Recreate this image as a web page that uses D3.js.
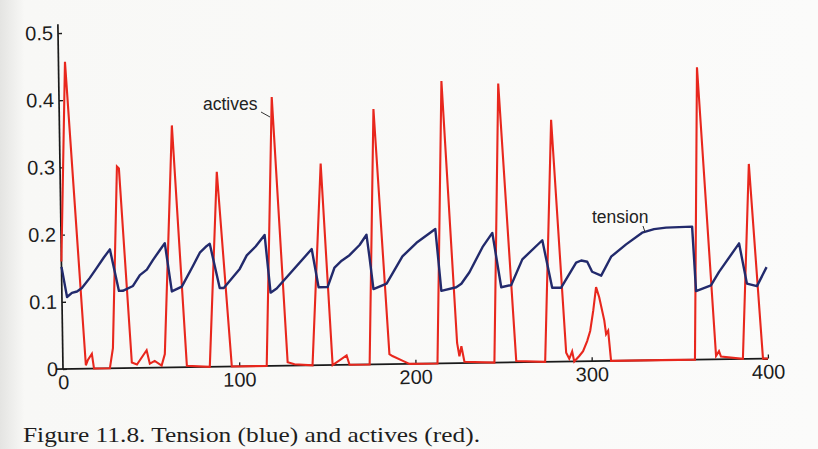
<!DOCTYPE html>
<html>
<head>
<meta charset="utf-8">
<script src="https://cdn.jsdelivr.net/npm/d3@7"></script>
<style>
  html, body { margin: 0; padding: 0; background: #fafaf8; }
  svg { display: block; }
</style>
</head>
<body>
<svg id="chart" width="818" height="449"></svg>
<script>
// ---- data ----
const activesT = [0, 3.7, 13.0, 14.2, 16.5, 17.6, 26.6, 28.5, 32.3, 33.4, 39.1, 42, 47.6, 49.3, 52.1, 56, 57.9,
  63.8, 70.3, 83.3, 88.9, 95.8, 115.6, 120.7, 127.5, 131.4, 141.6, 147.9, 153, 161, 162.6, 174, 178.3,
  185.3, 187, 192.6, 196.6, 212.5, 217.1, 223.8, 225, 226.2, 227.8, 244.8, 249.3, 257.2, 273.6, 279,
  285.6, 287.3, 289, 290.1, 293, 295.2, 297.6, 299.4, 301.3, 303.1, 304.8, 307.5, 308.4, 309.6, 311,
  358.6, 362.2, 370.6, 372.3, 373.4, 385.8, 390.8, 397.2, 400];
const activesV = [0.16, 0.457, 0.005, 0.013, 0.022, 0, 0, 0.03, 0.30, 0.297, 0.008, 0.005, 0.026, 0.006, 0.01, 0.003, 0.02,
  0.36, 0.002, 0, 0.29, 0, 0, 0.40, 0.005, 0.002, 0, 0.30, 0, 0.014, 0, 0, 0.38,
  0.015, 0.012, 0.005, 0, 0, 0.42, 0.03, 0.01, 0.025, 0.002, 0, 0.415, 0.002, 0, 0.36,
  0.013, 0.004, 0.015, 0, 0.008, 0.015, 0.03, 0.045, 0.075, 0.11, 0.095, 0.06, 0.04, 0.045, 0,
  0, 0.435, 0.005, 0.012, 0.004, 0, 0.29, 0, 0];

const tensionT = [0, 2.9, 5.7, 8.6, 11.4, 16, 20.1, 24.1, 27.6, 32.4, 34.6, 40.4, 44.4, 48.4, 51.9, 56, 58.8,
  62.4, 68.1, 74.5, 78.6, 82.6, 84.3, 89.6, 91.9, 101.1, 105.2, 110.3, 115.5, 118.4, 121.9, 142.1,
  145.7, 150.8, 154.9, 159, 163.5, 169.3, 173.3, 174.8, 176.8, 184.3, 193.5, 201.6, 212.4, 215.3,
  223.8, 226.7, 231.4, 239, 244.7, 249.3, 255, 261.5, 273, 278.2, 283.3, 292, 294.9, 298.3, 301,
  306.1, 311.9, 320.5, 329.7, 336.5, 343.3, 358.1, 359.8, 368.3, 373, 384.6, 388.7, 394.4, 400];
const tensionV = [0.152, 0.107, 0.113, 0.115, 0.12, 0.135, 0.15, 0.165, 0.177, 0.115, 0.115, 0.122, 0.138, 0.146, 0.16, 0.175, 0.185,
  0.113, 0.12, 0.15, 0.17, 0.18, 0.183, 0.117, 0.117, 0.145, 0.165, 0.178, 0.195, 0.109, 0.115, 0.173,
  0.116, 0.116, 0.145, 0.155, 0.163, 0.178, 0.193, 0.16, 0.112, 0.12, 0.16, 0.18, 0.2, 0.108,
  0.113, 0.118, 0.135, 0.172, 0.193, 0.112, 0.115, 0.153, 0.181, 0.11, 0.11, 0.147, 0.15, 0.148, 0.133,
  0.127, 0.155, 0.173, 0.19, 0.195, 0.197, 0.198, 0.102, 0.11, 0.13, 0.172, 0.112, 0.108, 0.136];

const xTicks = [0, 100, 200, 300, 400];
const yTicks = [0, 0.1, 0.2, 0.3, 0.4, 0.5];
const yTickLabels = ["0", "0.1", "0.2", "0.3", "0.4", "0.5"];
const seriesLabels = ["actives", "tension"];
const caption = "Figure 11.8. Tension (blue) and actives (red).";

// ---- drawing ----
const svg = d3.select("#chart");
const W = 818, H = 449;
const ox = 63, oy = 369;

// paper background with slight edge shading
const defs = svg.append("defs");
const grad = defs.append("linearGradient").attr("id", "paper").attr("x1", 0).attr("x2", 1).attr("y1", 0).attr("y2", 0);
grad.append("stop").attr("offset", "0").attr("stop-color", "#e4e4e2");
grad.append("stop").attr("offset", "0.03").attr("stop-color", "#f8f8f6");
grad.append("stop").attr("offset", "1").attr("stop-color", "#fbfbfa");
svg.append("rect").attr("width", W).attr("height", H).attr("fill", "url(#paper)");

const x = d3.scaleLinear().domain([0, 400]).range([ox, 768]);
const y = d3.scaleLinear().domain([0, 0.5]).range([oy, 33]);

const g = svg.append("g").attr("transform", `rotate(-0.85, ${ox}, ${oy})`);

// axes
const xAxis = d3.axisBottom(x).tickValues(xTicks).tickSizeInner(-4).tickSizeOuter(0).tickPadding(6)
  .tickFormat(d3.format("d"));
const yAxis = d3.axisLeft(y).tickValues(yTicks).tickSizeInner(-4).tickSizeOuter(0).tickPadding(5)
  .tickFormat((d, i) => yTickLabels[i]);

const gx = g.append("g").attr("transform", `translate(0,${oy})`).call(xAxis);
const gy = g.append("g").attr("transform", `translate(${ox},0)`).call(yAxis);
[gx, gy].forEach(a => {
  a.select(".domain").remove();
  a.selectAll("line").attr("stroke", "#1a1a1a").attr("stroke-width", 1.3);
  a.selectAll("text").attr("font-family", "'Liberation Sans', Arial, sans-serif")
    .attr("font-size", 20).attr("fill", "#1c1c1c");
});
gx.selectAll(".tick").filter(d => d === 0).select("line").remove();

// axis lines
g.append("line").attr("x1", ox - 7).attr("x2", x(400)).attr("y1", oy).attr("y2", oy)
  .attr("stroke", "#1a1a1a").attr("stroke-width", 1.7);
g.append("line").attr("x1", ox).attr("x2", ox).attr("y1", y(0.513)).attr("y2", oy)
  .attr("stroke", "#1a1a1a").attr("stroke-width", 1.7);

// series
const red = activesT.map((t, i) => [t, activesV[i]]);
const blue = tensionT.map((t, i) => [t, tensionV[i]]);
const line = d3.line().x(d => x(d[0])).y(d => y(d[1]));

g.append("path").attr("d", line(red)).attr("fill", "none")
  .attr("stroke", "#e8271d").attr("stroke-width", 2.1).attr("stroke-linejoin", "miter");
g.append("path").attr("d", line(blue)).attr("fill", "none")
  .attr("stroke", "#222a6c").attr("stroke-width", 2.4).attr("stroke-linejoin", "round");

// annotations
const lab = svg.append("g").attr("font-family", "'Liberation Sans', Arial, sans-serif")
  .attr("font-size", 17.5).attr("fill", "#222");
lab.append("text").attr("x", 203).attr("y", 110).text(seriesLabels[0]);
lab.append("line").attr("x1", 261).attr("y1", 112).attr("x2", 270).attr("y2", 117)
  .attr("stroke", "#333").attr("stroke-width", 1);
lab.append("text").attr("x", 592).attr("y", 223).text(seriesLabels[1]);
lab.append("line").attr("x1", 643).attr("y1", 226).attr("x2", 645).attr("y2", 232)
  .attr("stroke", "#333").attr("stroke-width", 1);

// caption
svg.append("text").attr("x", 23).attr("y", 442)
  .attr("font-family", "'Liberation Serif', 'DejaVu Serif', serif")
  .attr("font-size", 21).attr("fill", "#1e1e1e")
  .attr("textLength", 457).attr("lengthAdjust", "spacingAndGlyphs")
  .text(caption);
</script>
</body>
</html>
